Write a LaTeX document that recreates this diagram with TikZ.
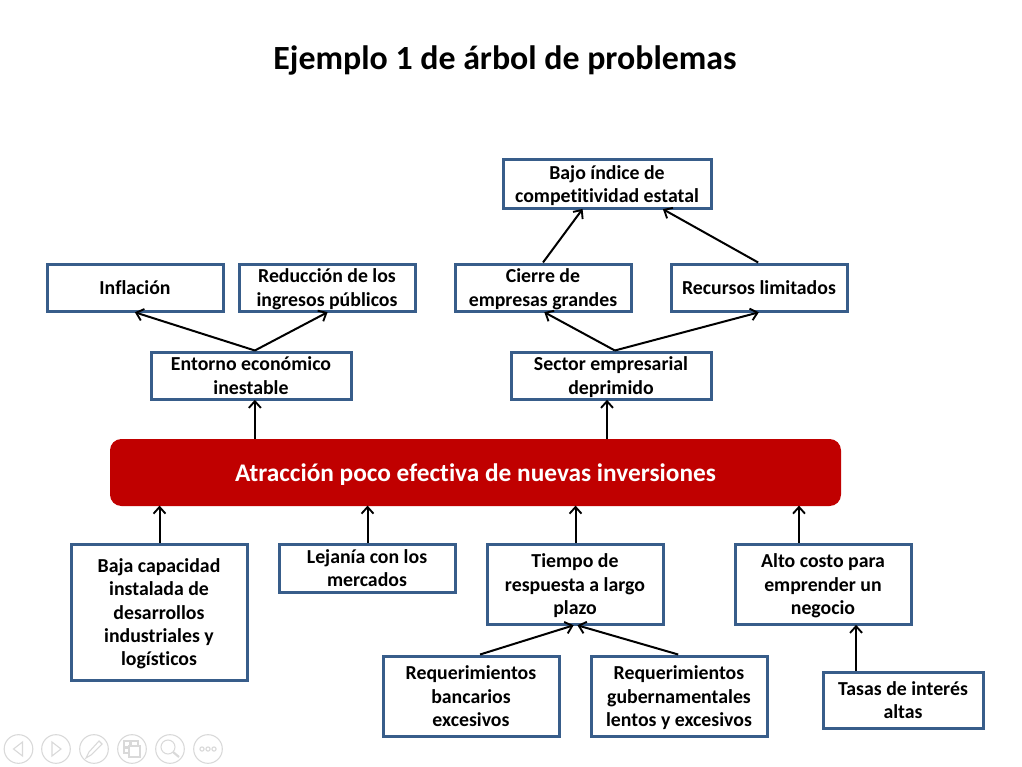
\documentclass[tikz,border=0pt]{standalone}
\usepackage{fontspec}
\setmainfont{Carlito}[Ligatures=NoCommon]
\usetikzlibrary{arrows.meta,calc}
\definecolor{boxblue}{HTML}{385D8A}
\definecolor{bannerred}{HTML}{C00000}
\definecolor{toolgray}{HTML}{D9D9D9}
\tikzset{
  boxnode/.style={draw=boxblue,line width=2.25pt,fill=white,align=center,inner sep=0pt,
    font=\fontsize{14.85}{17.6}\selectfont\bfseries,text=black},
  conn/.style={draw=black,line width=1.5pt,-{Straight Barb[length=5pt,width=9pt,line width=1.4pt]},shorten >=-0.5pt},
  tool/.style={draw=toolgray,line width=0.8pt},
}
\newcommand{\bx}[6]{\node[boxnode,minimum width=#4*0.75pt-#2*0.75pt-0.75pt,minimum height=#5*0.75pt-#3*0.75pt-0.75pt] (#1) at ({(#2+#4-1)/2},{(#3+#5-1)/2}) {\rule{0pt}{14pt}#6\rule[-3.5pt]{0pt}{3.5pt}};}
\begin{document}
\begin{tikzpicture}[x=0.75pt,y=-0.75pt]
\useasboundingbox (0,0) rectangle (1022,767);
\fill[white] (0,0) rectangle (1022,767);
\node[font=\fontsize{25.4}{29}\selectfont\bfseries,text=black] (title) at (505,60.5) {Ejemplo 1 de árbol de problemas};
\bx{bajo}{503}{160}{712}{209}{Bajo índice de\\competitividad estatal}
\bx{inflacion}{47}{264}{224}{312}{Inflación}
\bx{reduccion}{239}{264}{416}{312}{Reducción de los\\ingresos públicos}
\bx{cierre}{455}{264}{632}{312}{Cierre de\\empresas grandes}
\bx{recursos}{671}{264}{848}{312}{Recursos limitados}
\bx{entorno}{151}{352}{352}{400}{Entorno económico\\inestable}
\bx{sector}{511}{352}{712}{400}{Sector empresarial\\deprimido}
\node[fill=bannerred,rounded corners=8.5pt,minimum width=548.25pt,minimum height=50.25pt,inner sep=0pt,text=white,font=\fontsize{19}{23}\selectfont\bfseries] (main) at (475.5,472.5) {\rule{0pt}{19pt}Atracción poco efectiva de nuevas inversiones\rule[-5pt]{0pt}{5pt}};
\bx{baja}{71}{544}{248}{681}{Baja capacidad\\instalada de\\desarrollos\\industriales y\\logísticos}
\bx{lejania}{279}{544}{456}{593}{Lejanía con los\\mercados}
\bx{tiempo}{487}{544}{664}{625}{Tiempo de\\respuesta a largo\\plazo}
\bx{alto}{735}{544}{912}{625}{Alto costo para\\emprender un\\negocio}
\bx{reqa}{383}{656}{560}{737}{Requerimientos\\bancarios\\excesivos}
\bx{reqb}{591}{656}{768}{737}{Requerimientos\\gubernamentales\\lentos y excesivos}
\bx{tasas}{823}{672}{984}{729}{Tasas de interés\\altas}
% connectors
\coordinate (entup) at ([xshift=2.9pt]entorno.north);
\coordinate (secup) at ([xshift=2.9pt]sector.north);
\draw[conn] (entup) -- ([xshift=0.4pt]inflacion.south);
\draw[conn] (entup) -- (reduccion.south);
\draw[conn] ([xshift=2.9pt]entorno.south |- main.north) -- ([xshift=2.9pt]entorno.south);
\draw[conn] ([xshift=-3pt]sector.south |- main.north) -- ([xshift=-3pt]sector.south);
\draw[conn] (secup) -- ([xshift=1.4pt]cierre.south);
\draw[conn] (secup) -- ([xshift=-0.6pt]recursos.south);
\draw[conn] (cierre.north) -- ([xshift=-18.6pt]bajo.south);
\draw[conn] ([xshift=-0.6pt]recursos.north) -- ([xshift=42.4pt]bajo.south);
\draw[conn] ([xshift=0.4pt]baja.north) -- ([xshift=0.4pt]baja.north |- main.south);
\draw[conn] ([xshift=0.4pt]lejania.north) -- ([xshift=0.4pt]lejania.north |- main.south);
\draw[conn] ([xshift=0.4pt]tiempo.north) -- ([xshift=0.4pt]tiempo.north |- main.south);
\draw[conn] ([xshift=-18pt]alto.north) -- ([xshift=-18pt]alto.north |- main.south);
\draw[conn] ([xshift=-35.2pt]tasas.north) -- ([xshift=-35.2pt]tasas.north |- alto.south);
\draw[conn] ([xshift=6.8pt]reqa.north) -- ([xshift=-1.5pt]tiempo.south);
\draw[conn] ([xshift=-0.6pt]reqb.north) -- ([xshift=2.3pt]tiempo.south);
% viewer toolbar
\foreach \cx/\nm in {18.5/a,56/b,94/c,132/d,170/e,208/f}{\node[tool,circle,minimum size=21.5pt,inner sep=0pt] (t\nm) at (\cx,749) {};}
\draw[tool] ($(ta)+(4,-7)$) -- ($(ta)+(-5,0)$) -- ($(ta)+(4,7)$) -- cycle;
\draw[tool] ($(tb)+(-4,-7)$) -- ($(tb)+(5,0)$) -- ($(tb)+(-4,7)$) -- cycle;
\draw[tool] ($(tc)+(-8,9)$) -- ($(tc)+(-5,3)$) -- ($(tc)+(5,-8)$) -- ($(tc)+(8,-5)$) -- ($(tc)+(-3,6)$) -- cycle;
\draw[tool] ($(td)+(-8,-8)$) rectangle ($(td)+(-2,-2)$);
\draw[tool] ($(td)+(-1,-8)$) rectangle ($(td)+(6,-2)$);
\draw[tool] ($(td)+(-8,-1)$) rectangle ($(td)+(-2,4)$);
\draw[tool,fill=white] ($(td)+(-3,-3)$) rectangle ($(td)+(8,8)$);
\draw[tool] ($(te)+(-2,-2)$) circle[radius=5.25pt];
\draw[tool,line width=1.6pt] ($(te)+(3,3)$) -- ($(te)+(9,8)$);
\foreach \dx in {-6,0,6}{\draw[tool] ($(tf)+(\dx,0)$) circle[radius=1.6pt];}
\end{tikzpicture}
\end{document}
